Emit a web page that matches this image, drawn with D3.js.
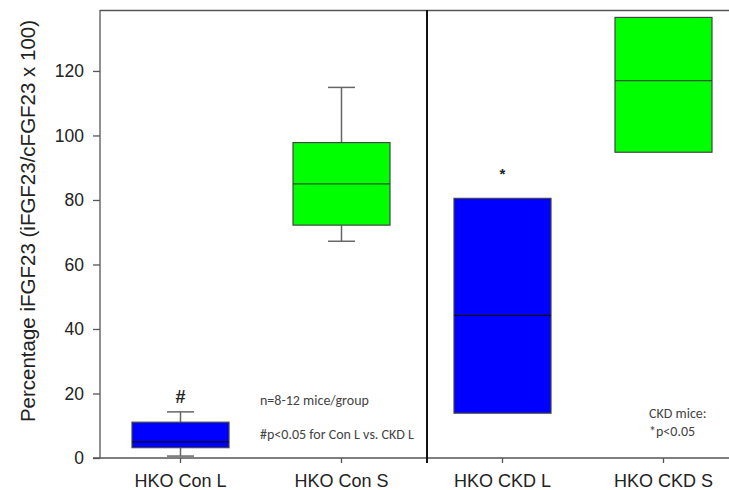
<!DOCTYPE html>
<html>
<head>
<meta charset="utf-8">
<script src="https://cdn.jsdelivr.net/npm/d3@7"></script>
<style>
  html, body { margin: 0; padding: 0; background: #fff; }
  svg { display: block; }
</style>
</head>
<body>
<svg id="chart" width="729" height="490"></svg>
<script>
// Groups and box statistics (percentage iFGF23)
const categories = ["HKO Con L", "HKO Con S", "HKO CKD L", "HKO CKD S"];
const boxColors  = ["#0000ff", "#00ff00", "#0000ff", "#00ff00"];
const whiskerLow  = [0.6, 67.2, null, null];
const q1          = [3.2, 72.2, 13.9, 94.8];
const median      = [5.0, 85.0, 44.2, 117.0];
const q3          = [11.1, 97.8, 80.5, 136.6];
const whiskerHigh = [14.3, 114.9, null, null];
const marks       = ["#", "", "*", ""];
const yTicks = [0, 20, 40, 60, 80, 100, 120];

const W = 729, H = 490;
const plotLeft = 100, plotTop = 10, plotBottom = 458;

const svg = d3.select("#chart");

const y = d3.scaleLinear().domain([0, 138.9]).range([plotBottom, plotTop]);
const x = d3.scaleBand().domain(categories).range([plotLeft, plotLeft + 644]).padding(0);
const boxW = 97, capW = 27;
const sans = "Arial, 'Liberation Sans', sans-serif";

// frame: top border runs to the right edge
svg.append("line").attr("x1", plotLeft).attr("x2", W).attr("y1", plotTop + 0.5).attr("y2", plotTop + 0.5)
  .attr("stroke", "#555").attr("stroke-width", 1.3);

// y axis
const yAxis = svg.append("g").attr("transform", `translate(${plotLeft},0)`)
  .call(d3.axisLeft(y).tickValues(yTicks).tickSize(7).tickPadding(9));
yAxis.select(".domain").attr("stroke", "#555").attr("stroke-width", 1.3)
  .attr("d", `M0,${plotBottom}V${plotTop}`);
yAxis.selectAll(".tick line").attr("stroke", "#555").attr("stroke-width", 1.3);
yAxis.selectAll(".tick text").attr("font-family", sans)
  .attr("font-size", 17.5).attr("fill", "#222");

// x axis
const xAxis = svg.append("g").attr("transform", `translate(0,${plotBottom})`)
  .call(d3.axisBottom(x).tickSize(5).tickPadding(11));
xAxis.select(".domain").attr("stroke", "#555").attr("stroke-width", 1.3)
  .attr("d", `M${plotLeft - 7},0H${W}`);
xAxis.selectAll(".tick line").attr("stroke", "#555").attr("stroke-width", 1.3);
xAxis.selectAll(".tick text").attr("font-family", sans)
  .attr("font-size", 18).attr("fill", "#222");

// divider between control and CKD groups
const divX = x(categories[2]) + 5;
svg.append("line").attr("x1", divX).attr("x2", divX).attr("y1", plotTop).attr("y2", plotBottom + 5)
  .attr("stroke", "#111").attr("stroke-width", 2);

// y axis title
svg.append("text")
  .attr("transform", `translate(35,221) rotate(-90)`)
  .attr("text-anchor", "middle")
  .attr("font-family", sans)
  .attr("font-size", 20.5).attr("fill", "#222")
  .text("Percentage iFGF23 (iFGF23/cFGF23 x 100)");

// boxes
const data = categories.map((c, i) => ({
  c, color: boxColors[i], lo: whiskerLow[i], q1: q1[i], med: median[i],
  q3: q3[i], hi: whiskerHigh[i], mark: marks[i]
}));

const g = svg.append("g");
data.forEach(d => {
  const cx = x(d.c) + x.bandwidth() / 2;
  if (d.hi != null) {
    g.append("line").attr("x1", cx).attr("x2", cx).attr("y1", y(d.q3)).attr("y2", y(d.hi))
      .attr("stroke", "#666").attr("stroke-width", 1.5);
    g.append("line").attr("x1", cx - capW / 2).attr("x2", cx + capW / 2)
      .attr("y1", y(d.hi)).attr("y2", y(d.hi)).attr("stroke", "#666").attr("stroke-width", 1.5);
  }
  if (d.lo != null) {
    g.append("line").attr("x1", cx).attr("x2", cx).attr("y1", y(d.q1)).attr("y2", y(d.lo))
      .attr("stroke", "#666").attr("stroke-width", 1.5);
    g.append("line").attr("x1", cx - capW / 2).attr("x2", cx + capW / 2)
      .attr("y1", y(d.lo)).attr("y2", y(d.lo)).attr("stroke", "#666").attr("stroke-width", 1.5);
  }
  g.append("rect").attr("x", cx - boxW / 2).attr("y", y(d.q3))
    .attr("width", boxW).attr("height", y(d.q1) - y(d.q3))
    .attr("fill", d.color).attr("stroke", "#444").attr("stroke-width", 1.2);
  g.append("line").attr("x1", cx - boxW / 2).attr("x2", cx + boxW / 2)
    .attr("y1", y(d.med)).attr("y2", y(d.med))
    .attr("stroke", d.color === "#00ff00" ? "#1a5a1a" : "#111").attr("stroke-width", 1.3);
  if (d.mark) {
    const upper = d.hi != null ? d.hi : d.q3;
    g.append("text").attr("x", cx).attr("y", y(upper) - (d.mark === "#" ? 9 : 19))
      .attr("text-anchor", "middle")
      .attr("font-family", sans)
      .attr("font-size", d.mark === "#" ? 18 : 15).attr("font-weight", "bold").attr("fill", "#222")
      .text(d.mark);
  }
});

// annotations
const noteFont = "Carlito, Calibri, 'Open Sans', 'Noto Sans', sans-serif";
const notes = [
  { t: "n=8-12 mice/group", x: 260, y: 405 },
  { t: "#p<0.05 for Con L vs. CKD L", x: 260, y: 439 },
  { t: "CKD mice:", x: 649, y: 418 },
  { t: "*p<0.05", x: 649, y: 436 }
];
svg.append("g").selectAll("text").data(notes).join("text")
  .attr("x", d => d.x).attr("y", d => d.y)
  .attr("font-family", noteFont).attr("font-size", 14).attr("fill", "#444")
  .text(d => d.t);
</script>
</body>
</html>
